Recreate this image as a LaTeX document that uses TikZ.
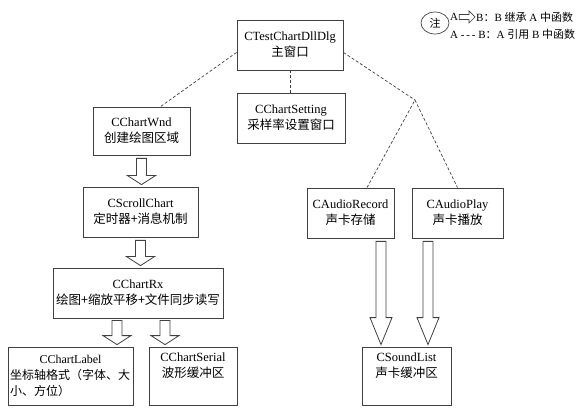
\documentclass[tikz,border=0pt]{standalone}
\usepackage{fontspec}
\setmainfont{Liberation Serif}
\newfontfamily\cjk{Noto Sans CJK SC}
\usetikzlibrary{calc,shapes.geometric}

\tikzset{
  cls/.style={draw=black!75, line width=0.8pt, align=center, inner sep=1pt,
    font=\fontsize{12.5}{16}\selectfont},
  uses/.style={draw=black!75, line width=0.7pt, dash pattern=on 3pt off 2pt},
  key/.style={inner sep=1pt, anchor=west, font=\fontsize{11}{12}\selectfont},
  fat/.style 2 args={draw=black!75, line width=0.8pt, to path={let \p1=(\tikztostart), \p2=(\tikztotarget) in
    (\x1-5pt,\y1) -- (\x1-5pt,\y2+#2) -- (\x1-#1,\y2+#2) -- (\x1,\y2) -- (\x1+#1,\y2+#2) -- (\x1+5pt,\y2+#2) -- (\x1+5pt,\y1) -- cycle}},
  fatr/.style={draw=black!75, line width=0.7pt, to path={let \p1=(\tikztostart.east), \p2=(\tikztotarget.west) in
    (\x1,\y1+2.5pt) -- (\x2-6pt,\y1+2.5pt) -- (\x2-6pt,\y1+6pt) -- (\x2,\y1) -- (\x2-6pt,\y1-6pt) -- (\x2-6pt,\y1-2.5pt) -- (\x1,\y1-2.5pt) -- cycle}}
}

\begin{document}
\begin{tikzpicture}[x=1pt, y=-1pt]
  \useasboundingbox (0,0) rectangle (587,409);

  % classes
  \node [cls, minimum width=106, minimum height=50] (dlg) at (290,45) {CTestChartDllDlg\\{\cjk 主窗口}};
  \node [cls, minimum width=108, minimum height=50] (setting) at (291,118) {CChartSetting\\{\cjk 采样率设置窗口}};
  \node [cls, minimum width=97, minimum height=48] (wnd) at (141.5,131) {CChartWnd\\{\cjk 创建绘图区域}};
  \node [cls, minimum width=115, minimum height=50] (scroll) at (140.5,212) {CScrollChart\\{\cjk 定时器+消息机制}};
  \node [cls, minimum width=170, minimum height=50] (rx) at (138,293) {CChartRx\\{\cjk 绘图+缩放平移+文件同步读写}};
  \node [cls, minimum width=125, minimum height=58, text width=121, align=left, font=\fontsize{12}{16}\selectfont] (label) at (70.5,376)
    {\hfill CChartLabel\hfill\null\\ \cjk 坐标轴格式（字体、大\\小、方位）};
  \node [cls, minimum width=88, minimum height=58] (serial) at (193,376) {CChartSerial\\{\cjk 波形缓冲区}\\\strut};
  \node [cls, minimum width=87, minimum height=50] (record) at (350.5,213) {CAudioRecord\\{\cjk 声卡存储}};
  \node [cls, minimum width=91, minimum height=50] (play) at (457.5,213) {CAudioPlay\\{\cjk 声卡播放}};
  \node [cls, minimum width=89, minimum height=58] (sound) at (406.5,376) {CSoundList\\{\cjk 声卡缓冲区}\\\strut};

  % references
  \coordinate (join) at (415,100);
  \draw [uses] ($(dlg.south west)+(0,-18)$) -- ($(wnd.north)+(19,0)$);
  \draw [uses] (dlg.south) -- (dlg.south |- setting.north);
  \draw [uses] ($(dlg.south east)+(0,-18)$) -- (join);
  \draw [uses] ($(record.north)+(16.5,0)$) -- (join);
  \draw [uses] (join) -- (play.north);

  % inheritance
  \draw [fat={14pt}{9pt}] ($(wnd.south)+(0,3)$) to ($(scroll.north)+(0,-2)$);
  \draw [fat={14pt}{9pt}] ($(scroll.south)+(0,3)$) to ($(rx.north)+(0,-2)$);
  \draw [fat={14pt}{9pt}] ($(rx.south)+(-21,2)$) to ($(label.north)+(0,-2)$);
  \draw [fat={14pt}{9pt}] ($(rx.south)+(27,2)$) to ($(serial.north)+(0,-2)$);
  \draw [fat={11pt}{27pt}] ($(record.south)+(30.5,3)$) to ($(sound.north)+(0,-2)$);
  \draw [fat={11pt}{27pt}] ($(play.south)+(-29.5,3)$) to ($(sound.north)+(0,-2)$);

  % legend
  \node [draw=black!75, line width=0.7pt, ellipse, minimum width=28, minimum height=22, inner sep=0pt,
    font=\cjk\fontsize{11}{12}\selectfont] (note) at (435,23) {注};
  \node [key] (keyA) at (449,17) {A};
  \node [key] (keyB) at (475,17) {B{\cjk ：}B {\cjk 继承} A {\cjk 中函数}};
  \draw [fatr] (keyA) to (keyB);
  \node [key] (keyC) at (449,34) {A {-}\,{-}\,{-} B{\cjk ：}A {\cjk 引用} B {\cjk 中函数}};
\end{tikzpicture}
\end{document}
